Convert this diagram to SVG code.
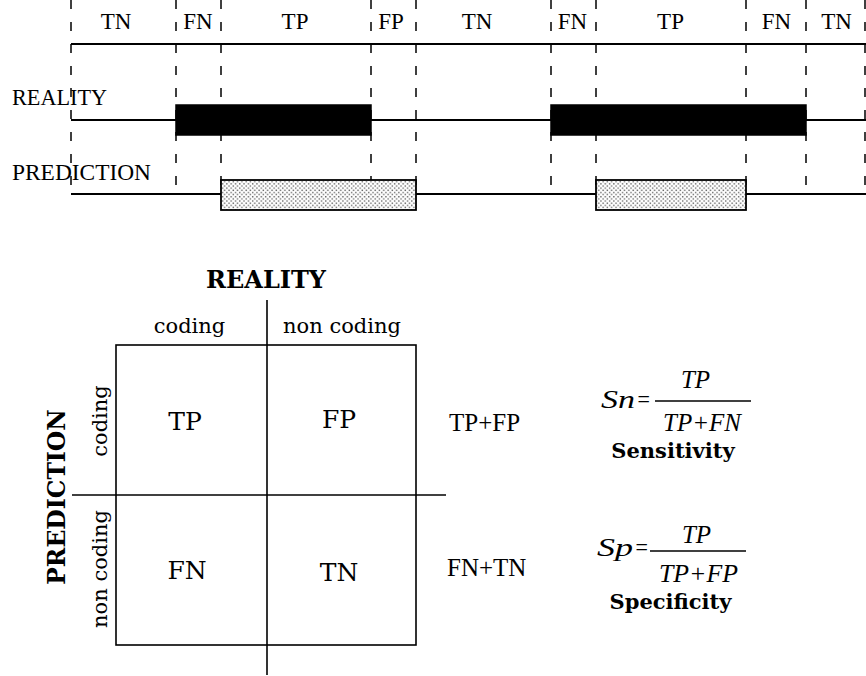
<svg xmlns="http://www.w3.org/2000/svg" width="866" height="676" viewBox="0 0 866 676">
  <defs>
    <pattern id="dots" width="4.3" height="4.3" patternUnits="userSpaceOnUse">
      <rect width="4.3" height="4.3" fill="#ffffff"/>
      <rect x="0.4" y="0.4" width="1.4" height="1.4" fill="#666666"/>
      <rect x="2.55" y="2.55" width="1.4" height="1.4" fill="#666666"/>
    </pattern>
  </defs>
  <style>
    .dash { stroke: #000; stroke-width: 1.5; stroke-dasharray: 9 13; fill: none; }
    .axis { stroke: #000; stroke-width: 2.2; fill: none; }
    .thin { stroke: #000; stroke-width: 1.6; fill: none; }
    .real { fill: #000; stroke: #000; stroke-width: 1.5; }
    .pred { fill: url(#dots); stroke: #000; stroke-width: 1.8; }
    .tl { font-family: "Liberation Serif", "Times New Roman", serif; font-size: 23px; fill: #000; }
    .seg { font-family: "Liberation Serif", "Times New Roman", serif; font-size: 23px; fill: #000; text-anchor: middle; }
    .ds { font-family: "DejaVu Serif", serif; font-size: 21px; fill: #000; }
    .cell { font-family: "DejaVu Serif", serif; font-size: 25px; fill: #000; text-anchor: middle; }
    .bold { font-family: "DejaVu Serif", serif; font-weight: bold; fill: #000; text-anchor: middle; }
    .sum { font-family: "Liberation Serif", "Times New Roman", serif; font-size: 25px; fill: #000; }
    .it { font-family: "Liberation Serif", "Times New Roman", serif; font-style: italic; font-size: 25px; fill: #000; }
  </style>

  <!-- Timeline -->
  <g id="timeline">
    <g id="dashed-guides">
      <line class="dash" x1="71" y1="0" x2="71" y2="194"/>
      <line class="dash" x1="176" y1="0" x2="176" y2="194"/>
      <line class="dash" x1="221" y1="0" x2="221" y2="194"/>
      <line class="dash" x1="371" y1="0" x2="371" y2="194"/>
      <line class="dash" x1="416" y1="0" x2="416" y2="194"/>
      <line class="dash" x1="551" y1="0" x2="551" y2="194"/>
      <line class="dash" x1="596" y1="0" x2="596" y2="194"/>
      <line class="dash" x1="746" y1="0" x2="746" y2="194"/>
      <line class="dash" x1="806" y1="0" x2="806" y2="194"/>
      <line class="dash" x1="865" y1="0" x2="865" y2="194" stroke="#999"/>
    </g>
    <line class="axis" x1="71" y1="44" x2="866" y2="44"/>
    <line class="axis" x1="71" y1="120" x2="866" y2="120"/>
    <line class="axis" x1="71" y1="194" x2="866" y2="194"/>

    <g id="seg-labels">
      <text class="seg" x="116" y="29">TN</text>
      <text class="seg" x="198" y="29">FN</text>
      <text class="seg" x="295" y="29">TP</text>
      <text class="seg" x="391" y="29">FP</text>
      <text class="seg" x="477" y="29">TN</text>
      <text class="seg" x="572.5" y="29">FN</text>
      <text class="seg" x="670.5" y="29">TP</text>
      <text class="seg" x="776.5" y="29">FN</text>
      <text class="seg" x="836.5" y="29">TN</text>
    </g>

    <g id="reality-row">
      <text class="tl" x="12" y="105" textLength="95" lengthAdjust="spacingAndGlyphs">REALITY</text>
      <rect class="real" x="176" y="105" width="195" height="30"/>
      <rect class="real" x="551" y="105" width="255" height="30"/>
    </g>
    <g id="prediction-row">
      <text class="tl" x="12" y="180" textLength="139" lengthAdjust="spacingAndGlyphs">PREDICTION</text>
      <rect class="pred" x="221" y="180" width="195" height="30"/>
      <rect class="pred" x="596" y="180" width="150" height="30"/>
    </g>
  </g>

  <!-- Confusion matrix -->
  <g id="matrix">
    <g id="matrix-lines">
      <rect class="thin" x="116" y="345" width="300" height="300"/>
      <line class="thin" x1="267" y1="300" x2="267" y2="675"/>
      <line class="thin" x1="72" y1="495" x2="446" y2="495"/>
    </g>
    <text class="bold" x="266" y="288" font-size="24">REALITY</text>
    <text class="ds" x="189.5" y="333" text-anchor="middle">coding</text>
    <text class="ds" x="342" y="333" text-anchor="middle">non coding</text>
    <text class="bold" font-size="23.5" transform="translate(65,497) rotate(-90)">PREDICTION</text>
    <text class="ds" text-anchor="middle" transform="translate(107,421) rotate(-90)">coding</text>
    <text class="ds" text-anchor="middle" transform="translate(107,569) rotate(-90)">non coding</text>

    <g id="cell-tp"><text class="cell" x="185" y="430">TP</text></g>
    <g id="cell-fp"><text class="cell" x="339" y="428">FP</text></g>
    <g id="cell-fn"><text class="cell" x="187" y="579">FN</text></g>
    <g id="cell-tn"><text class="cell" x="339" y="581">TN</text></g>

    <g id="row-sums">
      <text class="sum" x="449" y="431">TP+FP</text>
      <text class="sum" x="447" y="576">FN+TN</text>
    </g>
  </g>

  <!-- Formulas -->
  <g id="sensitivity">
    <text class="it" x="601" y="408" textLength="34" lengthAdjust="spacingAndGlyphs">Sn</text>
    <text class="it" x="636" y="408" textLength="15" lengthAdjust="spacingAndGlyphs">=</text>
    <text class="it" x="695.5" y="388" text-anchor="middle">TP</text>
    <line class="thin" x1="655" y1="401" x2="751" y2="401"/>
    <text class="it" x="663" y="431" textLength="78" lengthAdjust="spacingAndGlyphs">TP+FN</text>
    <text class="bold" x="673" y="458" font-size="21">Sensitivity</text>
  </g>
  <g id="specificity">
    <text class="it" x="597" y="556" textLength="36" lengthAdjust="spacingAndGlyphs">Sp</text>
    <text class="it" x="634" y="556" textLength="15" lengthAdjust="spacingAndGlyphs">=</text>
    <text class="it" x="696.5" y="543" text-anchor="middle">TP</text>
    <line class="thin" x1="650" y1="551" x2="746" y2="551"/>
    <text class="it" x="659" y="582" textLength="79" lengthAdjust="spacingAndGlyphs">TP+FP</text>
    <text class="bold" x="670.5" y="609" font-size="21">Specificity</text>
  </g>
</svg>
